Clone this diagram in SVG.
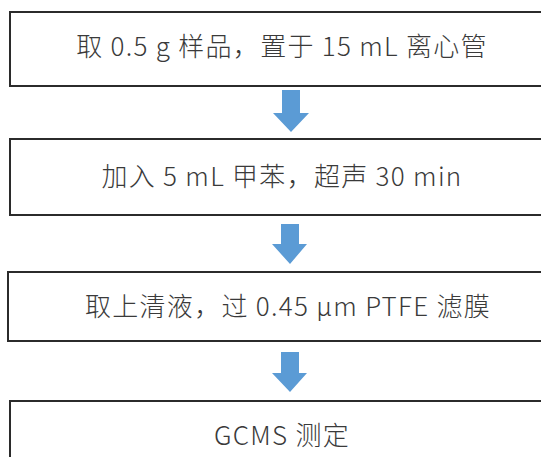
<svg xmlns="http://www.w3.org/2000/svg" width="541" height="457" viewBox="0 0 541 457">
<style>
.box{fill:#fff;stroke:#2b2b2b;stroke-width:2}
.t{font-family:"Noto Sans CJK SC","Noto Sans",sans-serif;font-weight:300;font-size:26px;letter-spacing:1.3px;fill:#3a3a3a;text-anchor:middle}
.arr{fill:#5b9bd5}
</style>
<rect width="541" height="457" fill="#fff"/>
<g id="n1"><rect class="box" x="10" y="12" width="545" height="74"/><text class="t" x="282" y="56">取 0.5 g 样品，置于 15 mL 离心管</text></g>
<g id="n2"><rect class="box" x="10" y="139" width="545" height="76"/><text class="t" x="282" y="186">加入 5 mL 甲苯，超声 30 min</text></g>
<g id="n3"><rect class="box" x="8" y="272" width="547" height="69"/><text class="t" x="288" y="316">取上清液，过 0.45 μm PTFE 滤膜</text></g>
<g id="n4"><rect class="box" x="10" y="401" width="545" height="70"/><text class="t" x="282" y="445">GCMS 测定</text></g>
<g id="connectors">
<polygon class="arr" points="282,90 300,90 300,113 309,113 291,132 273,113 282,113"/>
<polygon class="arr" points="281,224 299,224 299,244 307,244 290,264 272,244 281,244"/>
<polygon class="arr" points="281,352 299,352 299,373 307,373 290,392 272,373 281,373"/>
</g>
</svg>
